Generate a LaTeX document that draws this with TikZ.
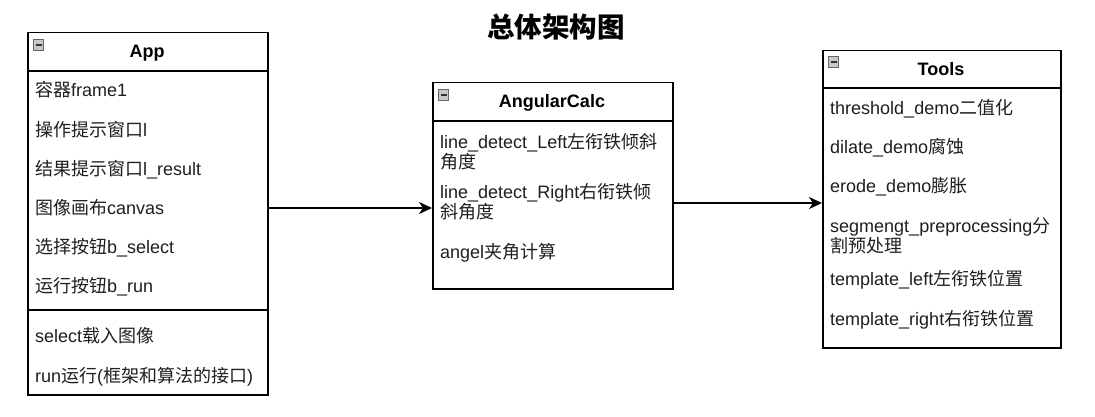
\documentclass[tikz,border=0pt]{standalone}
\usepackage{fontspec}
\setmainfont{Liberation Sans}
\newfontfamily\cjk[Scale=1.0]{Noto Sans CJK SC}
\newfontfamily\cjktitle{Noto Sans CJK SC}
\usetikzlibrary{arrows.meta}
\newcommand\zh[1]{{\cjk #1}}
\begin{document}
\begin{tikzpicture}[x=1pt,y=-1pt,
  box/.style={draw=black, line width=1.5pt, fill=white, inner sep=0pt, anchor=north west},
  hdr/.style={font=\fontsize{18}{20}\selectfont\bfseries, anchor=base, inner sep=0pt},
  row/.style={font=\fontsize{18}{20}\selectfont, anchor=base west, inner sep=0pt, text=black!88},
  sepline/.style={line width=1.5pt},
  arr/.style={line width=1.4pt, -{Stealth[length=13pt,width=12pt,inset=4pt]}},
  icon/.style={draw=black!60, fill=black!22, minimum size=10.5pt, inner sep=0pt, line width=0.7pt,
    path picture={\draw[line width=1.4pt, black!80]
      ([xshift=-3pt]path picture bounding box.center) -- ([xshift=3pt]path picture bounding box.center);}}
]
\useasboundingbox (0,0) rectangle (1095,417);

% title
\node[font=\cjktitle\bfseries\fontsize{27.5}{30}\selectfont, inner sep=0pt] (title) at (556,27) {总体架构图};

% ---------- App ----------
\node[box, minimum width=240pt, minimum height=362pt] (app) at (27,32) {};
\coordinate (apph) at (0,71);
\coordinate (appd) at (0,310);
\draw[sepline] (app.west |- apph) -- (app.east |- apph);
\draw[sepline] (app.west |- appd) -- (app.east |- appd);
\node[icon] (appicon) at (38.5,45) {};
\node[hdr] (apptitle) at (147,58) {App};
\node[row] (app1) at (35,96.5) {\zh{容器}frame1};
\node[row] (app2) at (35,136.5) {\zh{操作提示窗口}l};
\node[row] (app3) at (35,175.5) {\zh{结果提示窗口}l\_result};
\node[row] (app4) at (35,214.5) {\zh{图像画布}canvas};
\node[row] (app5) at (35,253.5) {\zh{选择按钮}b\_select};
\node[row] (app6) at (35,292.5) {\zh{运行按钮}b\_run};
\node[row] (app7) at (35,342.5) {select\zh{载入图像}};
\node[row] (app8) at (35,382.5) {run\zh{运行}(\zh{框架和算法的接口})};

% ---------- AngularCalc ----------
\node[box, minimum width=240pt, minimum height=206pt] (calc) at (432,82) {};
\coordinate (calch) at (0,121);
\draw[sepline] (calc.west |- calch) -- (calc.east |- calch);
\node[icon] (calcicon) at (443.5,95) {};
\node[hdr] (calctitle) at (552,108) {AngularCalc};
\node[row] (calc1a) at (440,148.5) {line\_detect\_Left\zh{左衔铁倾斜}};
\node[row] (calc1b) at (440,168.5) {\zh{角度}};
\node[row] (calc2a) at (440,198.5) {line\_detect\_Right\zh{右衔铁倾}};
\node[row] (calc2b) at (440,218.5) {\zh{斜角度}};
\node[row] (calc3) at (440,258.5) {angel\zh{夹角计算}};

% ---------- Tools ----------
\node[box, minimum width=238pt, minimum height=297pt] (tools) at (822,50) {};
\coordinate (toolsh) at (0,88);
\draw[sepline] (tools.west |- toolsh) -- (tools.east |- toolsh);
\node[icon] (toolsicon) at (833.5,62) {};
\node[hdr] (toolstitle) at (941,76) {Tools};
\node[row] (tools1) at (830,114.5) {threshold\_demo\zh{二值化}};
\node[row] (tools2) at (830,153.5) {dilate\_demo\zh{腐蚀}};
\node[row] (tools3) at (830,192.5) {erode\_demo\zh{膨胀}};
\node[row] (tools4a) at (830,232.5) {segmengt\_preprocessing\zh{分}};
\node[row] (tools4b) at (830,252.5) {\zh{割预处理}};
\node[row] (tools5) at (830,285.5) {template\_left\zh{左衔铁位置}};
\node[row] (tools6) at (830,325.5) {template\_right\zh{右衔铁位置}};

% ---------- connectors ----------
\coordinate (a1) at (0,208);
\coordinate (a2) at (0,203);
\draw[arr] (app.east |- a1) -- (calc.west |- a1);
\draw[arr] (calc.east |- a2) -- (tools.west |- a2);
\end{tikzpicture}
\end{document}
